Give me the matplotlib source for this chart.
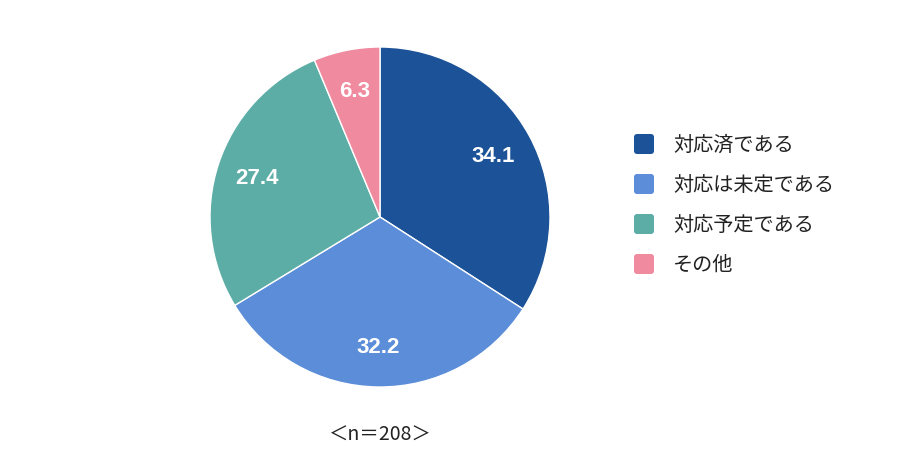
import matplotlib
matplotlib.use("Agg")
import matplotlib.pyplot as plt
from matplotlib.patches import FancyBboxPatch

plt.rcParams['font.family'] = ['Noto Sans CJK JP', 'DejaVu Sans']

labels = ['対応済である', '対応は未定である', '対応予定である', 'その他']
values = [34.1, 32.2, 27.4, 6.3]
colors = ['#1c5297', '#5b8dd9', '#5dada7', '#f08a9f']
n_label = '＜n＝208＞'

fig = plt.figure(figsize=(9, 4.64), dpi=100)
ax = fig.add_axes([0, 0, 1, 1])

wedges, texts, autotexts = ax.pie(
    values, colors=colors, startangle=90, counterclock=False,
    center=(380, 246), radius=170, frame=True,
    autopct='%.1f', pctdistance=0.76,
    wedgeprops=dict(edgecolor='white', linewidth=1),
    textprops=dict(color='white', fontsize=16, fontweight='bold',
                   family=['Liberation Sans', 'DejaVu Sans']))
ax.set_xlim(0, 900)
ax.set_ylim(0, 464)
ax.axis('off')

ax.text(380, 29, n_label, ha='center', va='center', fontsize=14, color='#222222')

# legend
for i, (lab, col) in enumerate(zip(labels, colors)):
    y = 319 - i * 40
    ax.add_patch(FancyBboxPatch((634, y - 10), 20, 20,
                                boxstyle='round,pad=0,rounding_size=3',
                                facecolor=col, edgecolor='none'))
    ax.text(673, y, lab, ha='left', va='center', fontsize=14.5, color='#222222')

fig.savefig('out.png', dpi=100)
